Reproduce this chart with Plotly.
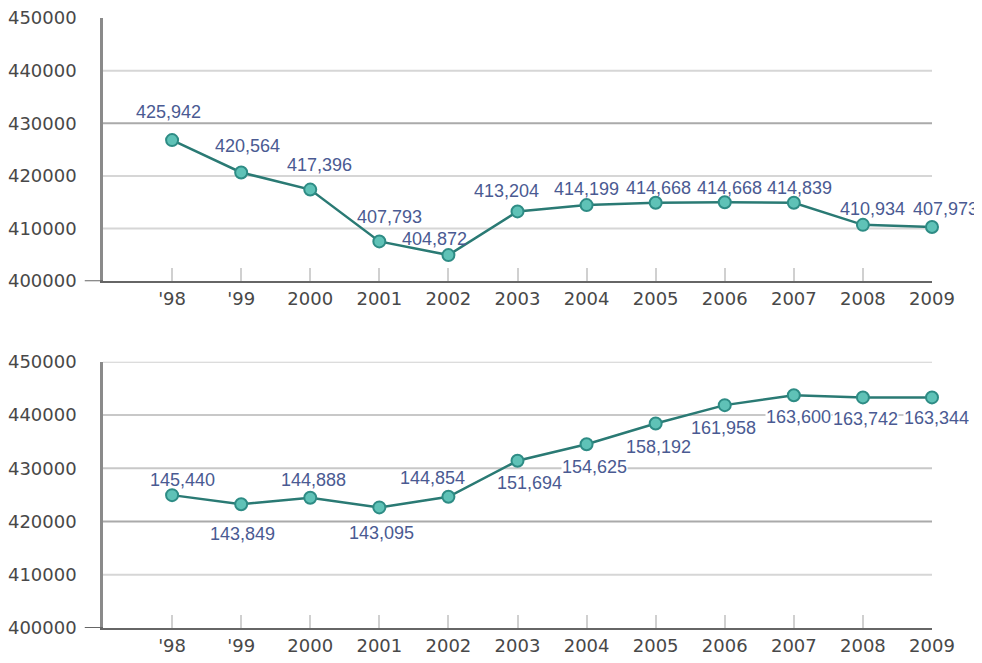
import plotly.graph_objects as go

# ---------------- data ----------------
years = ["'98", "'99", "2000", "2001", "2002", "2003", "2004", "2005", "2006", "2007", "2008", "2009"]
top_values = [426800, 420650, 417400, 407550, 404950, 413250, 414450, 414900, 415000, 414900, 410700, 410300]
top_labels = ["425,942", "420,564", "417,396", "407,793", "404,872", "413,204", "414,199",
              "414,668", "414,668", "414,839", "410,934", "407,973"]
bottom_values = [424950, 423250, 424450, 422650, 424650, 431400, 434500, 438400, 441850, 443700, 443300, 443300]
bottom_labels = ["145,440", "143,849", "144,888", "143,095", "144,854", "151,694", "154,625",
                 "158,192", "161,958", "163,600", "163,742", "163,344"]
y_ticks = [400000, 410000, 420000, 430000, 440000, 450000]
top_grid = [410000, 420000, 430000, 440000]
bottom_grid = [410000, 420000, 430000, 440000, 450000]

# ---------------- style ----------------
top_dx = [-4, 6, 9, 10, -14, -11, 0, 3, 5, 6, 10, 13]
top_dy = [28, 26, 25, 24, 16, 20, 16, 15, 14, 15, 16, 18]
bottom_dx = [10, 1, 3, 2, -16, 12, 8, 3, -1, 5, 3, 4]
bottom_dy = [15, -30, 18, -26, 19, -22, -23, -23, -23, -22, -22, -21]
bottom_bg = [False, False, False, False, False, False, True, False, False, True, True, True]
top_grid_colors = ["#d6d6d6", "#d6d6d6", "#aaaaaa", "#d6d6d6"]
bottom_grid_colors = ["#d6d6d6", "#aaaaaa", "#c8c8c8", "#c8c8c8", "#d0d0d0"]

LINE = "#2a7a74"
FILL = "#5fc2b7"
EDGE = "#2e8c85"
LABEL = "#4a5a92"
TICKFONT = dict(family="DejaVu Sans", size=18, color="#484848")
LABELFONT = dict(family="Liberation Sans", size=18, color=LABEL)

fig = go.Figure()
for vals, xa, ya in [(top_values, "x", "y"), (bottom_values, "x2", "y2")]:
    fig.add_trace(go.Scatter(
        x=years, y=vals, xaxis=xa, yaxis=ya, mode="lines+markers",
        line=dict(color=LINE, width=2.5),
        marker=dict(size=12, color=FILL, line=dict(color=EDGE, width=2)),
        hoverinfo="skip", showlegend=False, cliponaxis=False,
    ))

annotations = []
for i in range(len(years)):
    annotations.append(dict(x=i, y=top_values[i], xref="x", yref="y", text=top_labels[i],
                            showarrow=False, xshift=top_dx[i], yshift=top_dy[i], font=LABELFONT))
    annotations.append(dict(x=i, y=bottom_values[i], xref="x2", yref="y2", text=bottom_labels[i],
                            showarrow=False, xshift=bottom_dx[i], yshift=bottom_dy[i], font=LABELFONT,
                            bgcolor="white" if bottom_bg[i] else "rgba(0,0,0,0)", borderpad=0))

shapes = []
for v, c in zip(top_grid, top_grid_colors):
    shapes.append(dict(type="line", xref="x domain", yref="y", x0=0, x1=1, y0=v, y1=v,
                       line=dict(color=c, width=2), layer="below"))
for v, c in zip(bottom_grid, bottom_grid_colors):
    shapes.append(dict(type="line", xref="x2 domain", yref="y2", x0=0, x1=1, y0=v, y1=v,
                       line=dict(color=c, width=2), layer="below"))
# baseline stubs extending left of the y axis
for xr, yr in [("x domain", "y"), ("x2 domain", "y2")]:
    shapes.append(dict(type="line", xref=xr, yref=yr, x0=-0.022, x1=0, y0=400000, y1=400000,
                       line=dict(color="#666666", width=2)))

xcommon = dict(type="category", categoryorder="array", categoryarray=years, range=[-1, 11],
               showgrid=False, zeroline=False, showline=True, linecolor="#666666", linewidth=2,
               ticks="inside", ticklen=13, tickwidth=2, tickcolor="#d0d0d0",
               tickfont=TICKFONT, fixedrange=True, automargin=False, ticklabeloverflow="allow")
ycommon = dict(range=[400000, 450000], tickvals=y_ticks, tickformat="d", showgrid=False,
               zeroline=False, showline=True, linecolor="#8a8a8a", linewidth=2.5,
               ticks="outside", ticklen=20, tickcolor="rgba(0,0,0,0)",
               tickfont=TICKFONT, fixedrange=True, automargin=False, ticklabeloverflow="allow")

# page body has an 8px default margin, so margins are offset by 8px
fig.update_layout(
    width=982, height=663,
    margin=dict(l=95, r=58, t=10, b=43),
    paper_bgcolor="white", plot_bgcolor="white",
    xaxis=dict(xcommon, anchor="y"),
    yaxis=dict(ycommon, domain=[0.5686, 1], anchor="x"),
    xaxis2=dict(xcommon, anchor="y2"),
    yaxis2=dict(ycommon, domain=[0, 0.4365], anchor="x2"),
    annotations=annotations,
    shapes=shapes,
)

fig.write_html("out.html")
